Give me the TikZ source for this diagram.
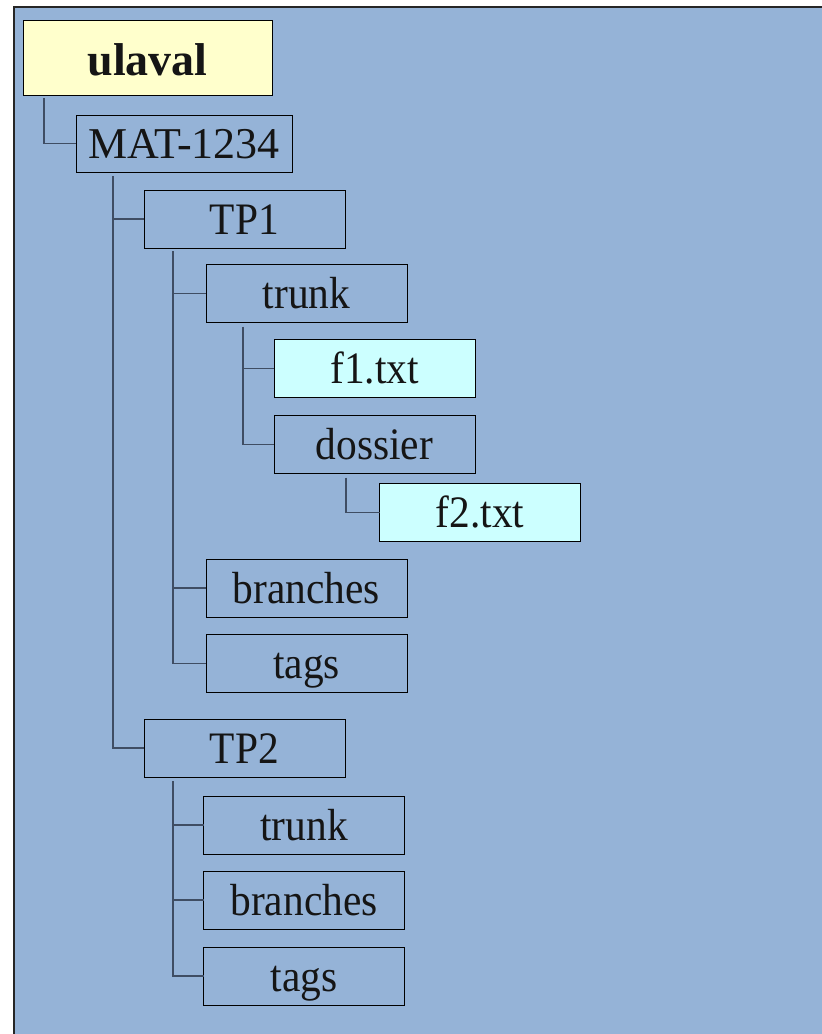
\documentclass[tikz,border=0pt]{standalone}
\usepackage{fontspec}
\setmainfont{Liberation Serif}
\newfontfamily\boxfont[FakeStretch=0.92]{Liberation Serif}
\definecolor{bgblue}{HTML}{95B3D7}
\definecolor{paleyellow}{HTML}{FFFFCC}
\definecolor{palecyan}{HTML}{CCFFFF}
\definecolor{connc}{HTML}{3F4D63}
\definecolor{textc}{HTML}{151515}
\begin{document}
\begin{tikzpicture}[x=1pt,y=-1pt,
  box/.style={draw=black,line width=1pt,rectangle,inner sep=0pt,outer sep=0pt,
    minimum width=201pt,minimum height=58pt,text=textc,
    text height=30pt,text depth=0pt,
    font=\boxfont\fontsize{45}{50}\selectfont},
  rootbox/.style={box,fill=paleyellow,minimum width=249pt,minimum height=75pt,
    text height=35pt,text depth=0pt,
    font=\bfseries\fontsize{46}{50}\selectfont},
  filebox/.style={box,fill=palecyan},
  conn/.style={draw=connc,line width=1.4pt}]
\useasboundingbox (0,0) rectangle (822,1034);
\fill[white] (0,0) rectangle (822,1034);
\fill[bgblue] (14,7) rectangle (822,1034);
\draw[line width=1.5pt,black!85] (14,1034) -- (14,7) -- (822,7);

\node[rootbox] (ulaval) at (147.5,57.5) {ulaval};
\node[box,minimum width=216pt,minimum height=57pt,font=\rmfamily\fontsize{44}{50}\selectfont] (mat) at (184,143.5) {MAT-1234};
\node[box] (tp1) at (244.5,219) {TP1};
\node[box] (trunk1) at (306.5,293.5) {trunk};
\node[filebox] (f1) at (374.5,368.5) {f1.txt};
\node[box] (dossier) at (374.5,444.5) {dossier};
\node[filebox] (f2) at (480,512.5) {f2.txt};
\node[box] (branches1) at (306.5,588) {branches};
\node[box] (tags1) at (306.5,663.5) {tags};
\node[box] (tp2) at (244.5,748) {TP2};
\node[box] (trunk2) at (304,825) {trunk};
\node[box] (branches2) at (304,900) {branches};
\node[box] (tags2) at (304,976) {tags};

% trunk lines
\coordinate (l0) at ([xshift=21pt,yshift=-3pt]ulaval.south west);
\coordinate (l1) at ([xshift=37pt,yshift=-4pt]mat.south west);
\coordinate (l2) at ([xshift=29pt,yshift=-3pt]tp1.south west);
\coordinate (l3) at ([xshift=37pt,yshift=-4pt]trunk1.south west);
\coordinate (l4) at ([xshift=72pt,yshift=-4pt]dossier.south west);
\coordinate (l5) at ([xshift=29pt,yshift=-4pt]tp2.south west);

\draw[conn] (l0) |- (mat.west);
\draw[conn] (l1) |- (tp2.west);
\draw[conn] (l1 |- tp1.west) -- (tp1.west);
\draw[conn] (l2) |- (tags1.west);
\draw[conn] (l2 |- trunk1.west) -- (trunk1.west);
\draw[conn] (l2 |- branches1.west) -- (branches1.west);
\draw[conn] (l3) |- (dossier.west);
\draw[conn] (l3 |- f1.west) -- (f1.west);
\draw[conn] (l4) |- (f2.west);
\draw[conn] (l5) |- (tags2.west);
\draw[conn] (l5 |- trunk2.west) -- (trunk2.west);
\draw[conn] (l5 |- branches2.west) -- (branches2.west);
\end{tikzpicture}
\end{document}
